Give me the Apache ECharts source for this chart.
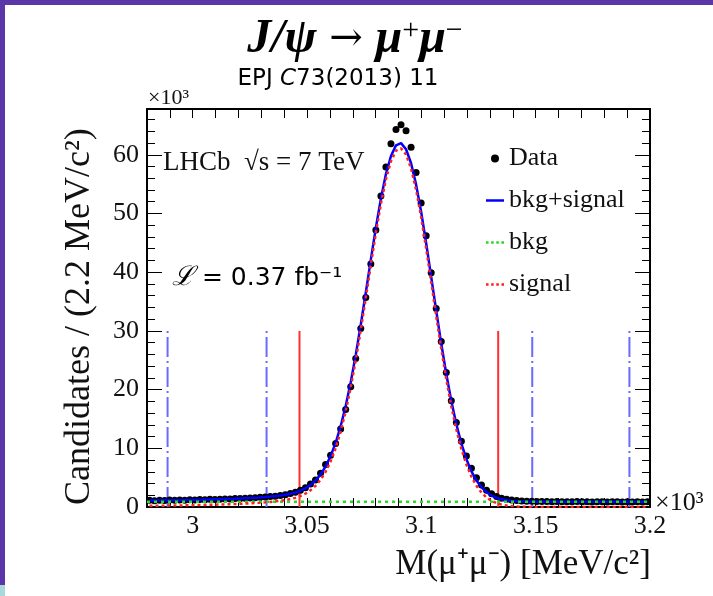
<!DOCTYPE html>
<html>
<head>
<meta charset="utf-8">
<title>J/psi to mu+ mu-</title>
<script src="https://cdn.jsdelivr.net/npm/echarts@6/dist/echarts.min.js"></script>
<style>
    html, body { margin: 0; padding: 0; background: #fff; }
    #chart { width: 713px; height: 596px; }
</style>
</head>
<body>
<div id="chart"></div>
<script>
    // histogram: 100 bins of 2.2 MeV between 2.98 and 3.2 GeV, counts in units of 10^3
    var binLow = 2.98;
    var binWidth = 0.0022;

    var dataCounts = [
        1.15, 1.08, 1.14, 1.12, 1.18, 1.13, 1.20, 1.16, 1.22, 1.19,
        1.26, 1.23, 1.30, 1.28, 1.33, 1.36, 1.35, 1.43, 1.44, 1.50,
        1.55, 1.57, 1.66, 1.70, 1.79, 1.84, 1.98, 2.10, 2.32, 2.50,
        2.85, 3.30, 3.90, 4.60, 5.75, 7.25, 8.80, 10.8, 13.3, 16.6,
        20.5, 25.3, 30.4, 35.7, 41.4, 47.2, 53.0, 57.9, 61.9, 64.3,
        65.1, 64.1, 61.3, 57.0, 51.8, 46.2, 39.9, 33.8, 28.2, 22.9,
        18.1, 14.4, 11.2, 8.7, 6.6, 5.0, 3.75, 2.85, 2.25, 1.80,
        1.50, 1.32, 1.18, 1.10, 1.04, 1.00, 0.97, 0.95, 0.93, 0.92,
        0.90, 0.93, 0.88, 0.91, 0.89, 0.92, 0.88, 0.90, 0.87, 0.91,
        0.89, 0.86, 0.90, 0.88, 0.87, 0.90, 0.86, 0.88, 0.87, 0.89
    ];

    var fitTotal = [
        1.10, 1.11, 1.12, 1.13, 1.14, 1.15, 1.17, 1.18, 1.20, 1.22,
        1.24, 1.26, 1.28, 1.30, 1.32, 1.35, 1.38, 1.41, 1.45, 1.49,
        1.53, 1.58, 1.63, 1.69, 1.77, 1.86, 1.96, 2.09, 2.25, 2.46,
        2.77, 3.17, 3.74, 4.50, 5.53, 6.89, 8.67, 10.92, 13.75, 17.19,
        21.26, 25.90, 31.05, 36.54, 42.14, 47.57, 52.53, 56.71, 59.80, 61.60,
        61.99, 60.94, 58.56, 54.92, 50.29, 44.94, 39.21, 33.43, 27.84, 22.65,
        18.06, 14.10, 10.80, 8.14, 6.07, 4.50, 3.35, 2.52, 1.95, 1.56,
        1.31, 1.15, 1.05, 0.98, 0.95, 0.92, 0.91, 0.90, 0.90, 0.90,
        0.90, 0.90, 0.90, 0.90, 0.90, 0.90, 0.90, 0.90, 0.90, 0.90,
        0.90, 0.90, 0.90, 0.90, 0.90, 0.90, 0.90, 0.90, 0.90, 0.90
    ];

    var fitSignal = [
        0.20, 0.21, 0.22, 0.23, 0.24, 0.25, 0.27, 0.28, 0.30, 0.32,
        0.34, 0.36, 0.38, 0.40, 0.42, 0.45, 0.48, 0.51, 0.55, 0.59,
        0.63, 0.68, 0.73, 0.79, 0.87, 0.96, 1.06, 1.19, 1.35, 1.56,
        1.87, 2.27, 2.84, 3.60, 4.63, 5.99, 7.77, 10.02, 12.85, 16.29,
        20.36, 25.00, 30.15, 35.64, 41.24, 46.67, 51.63, 55.81, 58.90, 60.70,
        61.09, 60.04, 57.66, 54.02, 49.39, 44.04, 38.31, 32.53, 26.94, 21.75,
        17.16, 13.20, 9.90, 7.24, 5.17, 3.60, 2.45, 1.62, 1.05, 0.66,
        0.41, 0.25, 0.15, 0.08, 0.05, 0.02, 0.01, 0, 0, 0,
        0, 0, 0, 0, 0, 0, 0, 0, 0, 0,
        0, 0, 0, 0, 0, 0, 0, 0, 0, 0
    ];

    // flat background, end points of the range
    var bkgMass = [2.98, 3.2];
    var bkgLevel = [0.91, 0.89];

    // mass windows (GeV) drawn as vertical lines up to cutHeight
    var sidebandCuts = [2.989, 3.0323, 3.1485, 3.191];
    var signalCuts = [3.0467, 3.1336];
    var cutHeight = 30;

    var xTicks = [3, 3.05, 3.1, 3.15, 3.2];

    var serif = 'Liberation Serif';

    var centers = dataCounts.map(function (v, i) {
        return +(binLow + (i + 0.5) * binWidth).toFixed(5);
    });

    function pairs(values) {
        return values.map(function (v, i) {
            return [centers[i], v];
        });
    }

    function cutSeries(x, color, type) {
        return {
            type: 'line',
            data: [[x, 0], [x, cutHeight]],
            symbol: 'none',
            silent: true,
            z: 1,
            lineStyle: { color: color, width: 2, type: type }
        };
    }

    function xLabel(v) {
        return xTicks.some(function (t) { return Math.abs(t - v) < 1e-6; }) ? String(+v.toFixed(2)) : '';
    }

    function yLabel(v) {
        var r = v / 10;
        return Math.abs(r - Math.round(r)) < 1e-6 ? String(v) : '';
    }

    function noLabel() {
        return '';
    }

    // legend glyphs: short solid / dotted strokes
    var solidIcon = 'path://M0,0 L18,0 L18,2.5 L0,2.5 Z';
    var dottedIcon = 'path://M0,0h2.5v2.5h-2.5z M5,0h2.5v2.5h-2.5z M10,0h2.5v2.5h-2.5z M15,0h2.5v2.5h-2.5z';

    var myChart = echarts.init(document.getElementById('chart'));

    // one side of the frame, ticks pointing inwards; mirrored sides get empty labels
    function frameAxis(pos, isX, withLabels) {
        var axis = {
            type: 'value', position: pos,
            axisLine: { show: true, onZero: false, lineStyle: { color: '#000', width: 2 } },
            splitLine: { show: false },
            axisTick: { show: true, inside: true },
            axisLabel: {
                show: true,
                fontFamily: serif, fontSize: 26, color: '#111',
                formatter: withLabels ? (isX ? xLabel : yLabel) : noLabel
            }
        };
        if (isX) {
            axis.min = 2.98; axis.max = 3.2; axis.interval = 0.01;
            axis.axisTick.length = 9;
            axis.axisLabel.margin = 6;
        } else {
            axis.min = 0; axis.max = 67.8; axis.interval = 10;
            axis.axisTick.length = 15;
            axis.minorTick = { show: true, splitNumber: 5, length: 8, lineStyle: { color: '#000' } };
            axis.axisLabel.margin = 8;
        }
        return axis;
    }

    var series = [
        {
            name: 'Data',
            type: 'scatter',
            data: pairs(dataCounts),
            symbolSize: 7,
            itemStyle: { color: '#000', opacity: 1 },
            z: 2
        },
        {
            name: 'bkg+signal',
            type: 'line',
            data: pairs(fitTotal),
            symbol: 'none',
            lineStyle: { color: '#0000ff', width: 2.5 },
            itemStyle: { color: '#0000ff' },
            z: 3
        },
        {
            name: 'bkg',
            type: 'line',
            data: bkgMass.map(function (m, i) { return [m, bkgLevel[i]]; }),
            symbol: 'none',
            lineStyle: { color: '#22dd22', width: 2.5, type: [3, 4] },
            itemStyle: { color: '#22dd22' },
            z: 4
        },
        {
            name: 'signal',
            type: 'line',
            data: pairs(fitSignal),
            symbol: 'none',
            lineStyle: { color: '#ff2020', width: 2.5, type: [3, 3] },
            itemStyle: { color: '#ff2020' },
            z: 4
        }
    ];
    sidebandCuts.forEach(function (x) {
        series.push(cutSeries(x, '#6a6aff', [20, 4, 2, 4]));
    });
    signalCuts.forEach(function (x) {
        series.push(cutSeries(x, '#ff3030', 'solid'));
    });

    myChart.setOption({
        animation: false,
        grid: {
            left: 147,
            top: 109,
            width: 503,
            height: 398
        },
        legend: {
            orient: 'vertical',
            left: 481,
            top: 140,
            itemWidth: 18,
            itemHeight: 8,
            itemGap: 15,
            selectedMode: false,
            textStyle: { fontFamily: serif, fontSize: 26, color: '#111', lineHeight: 27 },
            data: [
                { name: 'Data', icon: 'circle' },
                { name: 'bkg+signal', icon: solidIcon },
                { name: 'bkg', icon: dottedIcon },
                { name: 'signal', icon: dottedIcon }
            ]
        },
        xAxis: [
            frameAxis('bottom', true, true),
            frameAxis('top', true, false)
        ],
        yAxis: [
            frameAxis('left', false, true),
            frameAxis('right', false, false)
        ],
        graphic: [
            // slide frame
            { type: 'rect', shape: { x: 0, y: 0, width: 713, height: 5 }, style: { fill: '#5a36a8' }, silent: true },
            { type: 'rect', shape: { x: 0, y: 0, width: 5, height: 585 }, style: { fill: '#5a36a8' }, silent: true },
            { type: 'rect', shape: { x: 0, y: 585, width: 5, height: 11 }, style: { fill: '#a9d9da' }, silent: true },
            {
                type: 'text', x: 355, y: 40,
                style: {
                    text: '{m|J/ψ}{a| → }{m|μ}{s|+}{m|μ}{s|−}',
                    align: 'center', verticalAlign: 'middle',
                    rich: {
                        m: { fontFamily: serif, fontStyle: 'italic', fontWeight: 'bold', fontSize: 48, fill: '#000' },
                        a: { fontFamily: 'DejaVu Serif', fontSize: 40, fill: '#000' },
                        s: { fontFamily: serif, fontSize: 30, fill: '#000', verticalAlign: 'top' }
                    }
                }
            },
            {
                type: 'text', x: 338, y: 79,
                style: {
                    text: 'EPJ {i|C}73(2013) 11',
                    align: 'center', verticalAlign: 'middle',
                    fontFamily: 'DejaVu Sans', fontSize: 23, fill: '#000',
                    rich: { i: { fontFamily: 'DejaVu Sans', fontStyle: 'italic', fontSize: 23, fill: '#000' } }
                }
            },
            {
                type: 'text', x: 148, y: 98,
                style: { text: '×10³', fontFamily: serif, fontSize: 22, fill: '#111', align: 'left', verticalAlign: 'middle' }
            },
            {
                type: 'text', x: 655, y: 503,
                style: { text: '×10³', fontFamily: serif, fontSize: 26, fill: '#111', align: 'left', verticalAlign: 'middle' }
            },
            {
                type: 'text', x: 163, y: 163,
                style: { text: 'LHCb  √s = 7 TeV', fontFamily: serif, fontSize: 27, fill: '#111', align: 'left', verticalAlign: 'middle' }
            },
            {
                type: 'text', x: 172, y: 278,
                style: {
                    text: '{l|ℒ} = 0.37 fb⁻¹',
                    fontFamily: 'DejaVu Sans', fontSize: 25, fill: '#000', align: 'left', verticalAlign: 'middle',
                    rich: { l: { fontFamily: 'DejaVu Serif', fontStyle: 'italic', fontSize: 27, fill: '#000' } }
                }
            },
            {
                type: 'text', x: 651, y: 565,
                style: { text: 'M(μ⁺μ⁻) [MeV/c²]', fontFamily: serif, fontSize: 35, fill: '#111', align: 'right', verticalAlign: 'middle' }
            },
            {
                type: 'text', x: 80, y: 505, rotation: Math.PI / 2,
                style: { text: 'Candidates / (2.2 MeV/c²)', fontFamily: serif, fontSize: 36, fill: '#111', align: 'left', verticalAlign: 'middle' }
            }
        ],
        series: series
    });
</script>
</body>
</html>
